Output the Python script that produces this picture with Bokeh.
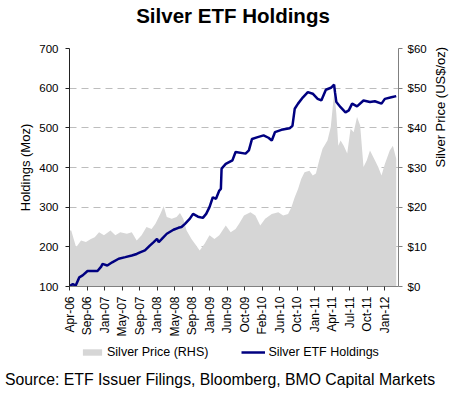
import math
from bokeh.plotting import figure
from bokeh.layouts import column
from bokeh.models import (Range1d, LinearAxis, FixedTicker, NumeralTickFormatter,
                          Legend, LegendItem, Label)
from bokeh.embed import file_html
from bokeh.resources import INLINE

# ---------------- data ----------------
x_labels = ["Apr-06", "Sep-06", "Jan-07", "May-07", "Sep-07", "Jan-08", "May-08",
            "Sep-08", "Jan-09", "Jun-09", "Oct-09", "Feb-10", "Jun-10", "Oct-10",
            "Jan-11", "Apr-11", "Jul-11", "Oct-11", "Jan-12"]

left_ticks = [100, 200, 300, 400, 500, 600, 700]
right_ticks = [0, 10, 20, 30, 40, 50, 60]

# time position in units of x-axis tick intervals
hold_t = [0.01, 0.19, 0.35, 0.56, 0.75, 1.03, 1.60, 1.81, 1.88, 2.16, 2.44, 2.81,
          3.19, 3.56, 3.84, 4.03, 4.31, 4.59, 4.81, 5.00, 5.10, 5.28, 5.56, 5.94,
          6.22, 6.40, 6.60, 6.88, 7.06, 7.34, 7.62, 7.81, 8.00, 8.19, 8.37, 8.56,
          8.65, 8.69, 8.93, 9.31, 9.49, 10.06, 10.25, 10.43, 10.71, 11.09, 11.37,
          11.56, 11.74, 12.11, 12.58, 12.74, 12.87, 13.06, 13.34, 13.62, 13.90,
          14.18, 14.39, 14.65, 14.94, 15.12, 15.17, 15.25, 15.49, 15.77, 15.96,
          16.15, 16.43, 16.80, 17.17, 17.45, 17.83, 18.02, 18.39, 18.67]
holdings = [101, 106, 102, 123, 128, 139, 139, 150, 157, 153, 161, 170,
            174, 178, 182, 186, 191, 203, 212, 220, 212, 220, 233, 243,
            248, 250, 258, 271, 283, 276, 273, 283, 300, 325, 321, 342,
            346, 397, 409, 418, 439, 435, 443, 472, 476, 481, 475,
            468, 489, 495, 499, 505, 548, 561, 577, 590, 586,
            573, 569, 596, 601, 609, 590, 565, 552, 539, 544,
            561, 554, 569, 565, 567, 561, 573, 577, 580]

price_t = [0.00, 0.10, 0.24, 0.38, 0.66, 0.94, 1.22, 1.44, 1.69, 1.97, 2.34, 2.62,
           2.90, 3.28, 3.56, 3.84, 4.12, 4.40, 4.69, 4.91, 5.19, 5.38, 5.56, 5.84,
           6.12, 6.31, 6.50, 6.69, 6.97, 7.25, 7.44, 7.72, 8.00, 8.28, 8.56, 8.93,
           9.21, 9.49, 9.69, 9.97, 10.34, 10.62, 10.90, 11.18, 11.56, 11.93, 12.21,
           12.49, 12.68, 12.87, 13.06, 13.24, 13.43, 13.71, 13.90, 14.08, 14.27,
           14.46, 14.74, 14.93, 15.06, 15.13, 15.25, 15.36, 15.49, 15.67, 15.87,
           16.06, 16.24, 16.43, 16.61, 16.80, 16.99, 17.17, 17.45, 17.64, 17.83,
           18.02, 18.30, 18.48, 18.67]
price = [14.1, 14.1, 12.0, 9.9, 11.6, 11.2, 12.0, 12.4, 13.7, 12.9, 14.1, 12.9,
         13.7, 13.3, 13.7, 11.6, 12.9, 15.0, 14.5, 15.8, 18.3, 20.2, 17.5, 17.1,
         17.5, 18.5, 17.1, 14.1, 12.0, 10.3, 9.1, 10.8, 12.9, 12.0, 12.9, 15.4,
         13.7, 14.5, 15.8, 17.9, 18.7, 17.9, 15.4, 17.1, 18.3, 18.7, 17.9,
         18.3, 20.0, 22.5, 24.6, 27.1, 28.8, 29.2, 28.0, 28.5, 31.8,
         34.7, 36.8, 40.2, 46.1, 49.0, 43.5, 35.5, 36.8, 35.5, 33.5,
         39.8, 38.9, 42.7, 40.6, 30.1, 31.8, 34.3, 31.8, 30.1, 28.0,
         30.9, 34.3, 35.5, 32.2]

FONT = "Liberation Sans"
AREA_COLOR = "#d6d6d6"
LINE_COLOR = "#000080"


def strip(height, y_range):
    f = figure(width=458, height=height, output_backend="svg",
               toolbar_location=None, x_axis_type=None, y_axis_type=None,
               x_range=Range1d(0, 18.8), y_range=y_range,
               min_border_left=0, min_border_right=0, min_border_top=0,
               min_border_bottom=0)
    f.outline_line_color = None
    f.grid.visible = False
    f.background_fill_color = "white"
    f.border_fill_color = "white"
    return f


# ---------------- title strip ----------------
t = strip(30, Range1d(0, 1))
t.add_layout(Label(x=232.5, y=15, x_units="screen", y_units="screen",
                   text="Silver ETF Holdings", text_align="center",
                   text_baseline="alphabetic", text_font=FONT,
                   text_font_style="bold", text_font_size="20.5px",
                   text_color="black"))

# ---------------- main figure ----------------
p = figure(width=458, height=310, output_backend="svg", toolbar_location=None,
           x_range=Range1d(0, 18.8), y_range=Range1d(100, 700),
           min_border_left=69, min_border_right=54, min_border_top=18,
           min_border_bottom=54)
p.outline_line_color = None
p.background_fill_color = "white"
p.border_fill_color = "white"
p.extra_y_ranges = {"price": Range1d(0, 60)}

p.varea(x=price_t, y1=0, y2=price, y_range_name="price", fill_color=AREA_COLOR)
p.line(hold_t, holdings, line_color=LINE_COLOR, line_width=2.5)

p.xgrid.visible = False
p.ygrid.grid_line_color = "#bdbdbd"
p.ygrid.grid_line_dash = "7 5"
p.ygrid.grid_line_width = 1

xa = p.xaxis[0]
xa.ticker = FixedTicker(ticks=list(range(len(x_labels))))
xa.major_label_overrides = {i: lab for i, lab in enumerate(x_labels)}
xa.major_label_orientation = math.pi / 2
xa.major_tick_in = 0
xa.major_tick_out = 4
xa.minor_tick_line_color = None
xa.axis_line_color = "#808080"
xa.major_tick_line_color = "#333333"
xa.major_label_text_font = FONT
xa.major_label_text_font_size = "12px"
xa.major_label_text_color = "black"
xa.major_label_standoff = 6

ya = p.yaxis[0]
ya.ticker = FixedTicker(ticks=left_ticks)
ya.axis_label = "Holdings (Moz)"
ya.axis_label_text_font = FONT
ya.axis_label_text_font_size = "13px"
ya.axis_label_text_font_style = "normal"
ya.axis_label_text_color = "black"
ya.axis_label_standoff = 3
ya.major_tick_in = 0
ya.major_tick_out = 4
ya.minor_tick_line_color = None
ya.axis_line_color = "#222222"
ya.major_tick_line_color = "#222222"
ya.major_label_text_font = FONT
ya.major_label_text_font_size = "11.5px"
ya.major_label_text_color = "black"
ya.major_label_standoff = 7

ra = LinearAxis(y_range_name="price", ticker=FixedTicker(ticks=right_ticks),
                formatter=NumeralTickFormatter(format="$0"))
ra.axis_label = "Silver Price  (US$/oz)"
try:
    ra.axis_label_orientation = math.pi / 2
except Exception:
    pass
ra.axis_label_text_font = FONT
ra.axis_label_text_font_size = "13px"
ra.axis_label_text_font_style = "normal"
ra.axis_label_text_color = "black"
ra.axis_label_standoff = 11
ra.major_tick_in = 0
ra.major_tick_out = 4
ra.minor_tick_line_color = None
ra.axis_line_color = "#808080"
ra.major_tick_line_color = "#808080"
ra.major_label_text_font = FONT
ra.major_label_text_font_size = "11.5px"
ra.major_label_text_color = "black"
ra.major_label_standoff = 5
p.add_layout(ra, "right")

# ---------------- bottom strip: legend + source ----------------
# keys use the real series but this strip's y range shows none of their values
b = strip(55, Range1d(-2, -1))
key_area = b.varea(x=price_t, y1=0, y2=price, fill_color=AREA_COLOR)
key_line = b.line(x=hold_t, y=holdings, line_color=LINE_COLOR, line_width=2.5)

legend = Legend(items=[LegendItem(label="Silver Price (RHS)", renderers=[key_area]),
                       LegendItem(label="Silver ETF Holdings", renderers=[key_line])],
                orientation="horizontal", location=(80, 36), padding=0,
                margin=0, spacing=33, glyph_width=24, glyph_height=8,
                label_height=14, label_standoff=3, border_line_color=None,
                background_fill_alpha=0, label_text_font=FONT,
                label_text_font_size="12.5px", label_text_color="black")
b.add_layout(legend)

b.add_layout(Label(x=219.5, y=16, x_units="screen", y_units="screen",
                   text="Source: ETF Issuer Filings, Bloomberg, BMO Capital Markets",
                   text_align="center", text_baseline="alphabetic",
                   text_font=FONT, text_font_size="15.8px", text_color="black"))

for f in (t, p, b):
    try:
        f.frame_align = False
    except Exception:
        pass

layout = column(t, p, b, spacing=0)
open("out.html", "w").write(file_html(layout, INLINE))
